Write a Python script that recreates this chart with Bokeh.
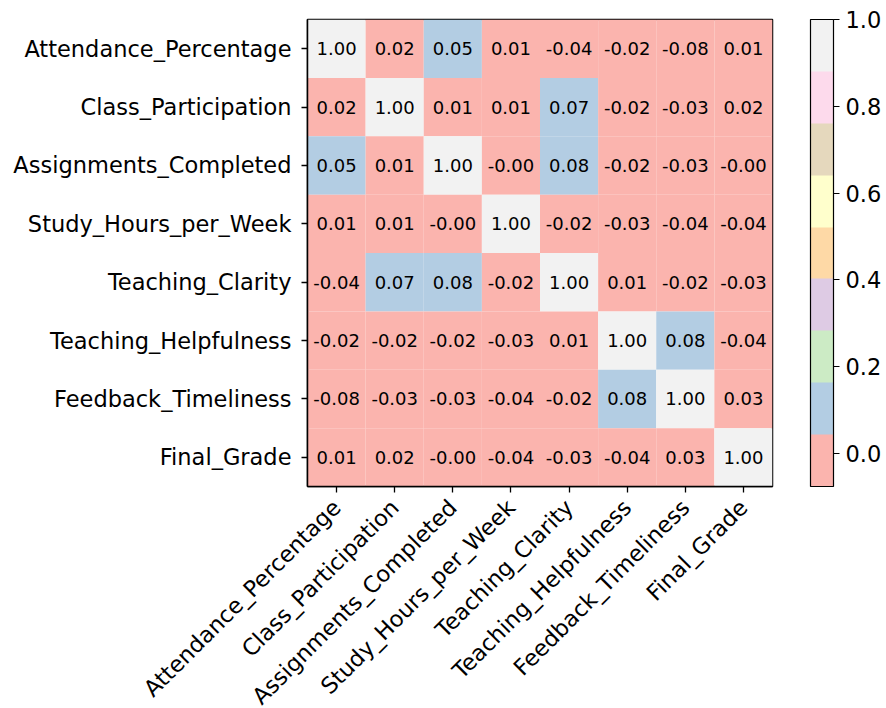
import math
from bokeh.plotting import figure
from bokeh.models import ColumnDataSource, LinearColorMapper, ColorBar, FixedTicker
from bokeh.transform import transform
from bokeh.core.properties import value
from bokeh.embed import file_html
from bokeh.resources import INLINE

labels = ["Attendance_Percentage", "Class_Participation", "Assignments_Completed",
          "Study_Hours_per_Week", "Teaching_Clarity", "Teaching_Helpfulness",
          "Feedback_Timeliness", "Final_Grade"]

row_attendance = [1.00, 0.02, 0.05, 0.01, -0.04, -0.02, -0.076, 0.01]
row_participation = [0.02, 1.00, 0.01, 0.01, 0.07, -0.02, -0.03, 0.02]
row_assignments = [0.05, 0.01, 1.00, -0.002, 0.08, -0.02, -0.03, -0.002]
row_study = [0.01, 0.01, -0.002, 1.00, -0.02, -0.03, -0.04, -0.04]
row_clarity = [-0.04, 0.07, 0.08, -0.02, 1.00, 0.01, -0.02, -0.03]
row_helpfulness = [-0.02, -0.02, -0.02, -0.03, 0.01, 1.00, 0.08, -0.04]
row_feedback = [-0.076, -0.03, -0.03, -0.04, -0.02, 0.08, 1.00, 0.03]
row_final = [0.01, 0.02, -0.002, -0.04, -0.03, -0.04, 0.03, 1.00]

matrix = [row_attendance, row_participation, row_assignments, row_study,
          row_clarity, row_helpfulness, row_feedback, row_final]

palette = ["#fbb4ae", "#b3cde3", "#ccebc5", "#decbe4", "#fed9a6",
           "#ffffcc", "#e5d8bd", "#fddaec", "#f2f2f2"]
cbar_ticks = [0.0, 0.2, 0.4, 0.6, 0.8, 1.0]

xs, ys, vals, txt = [], [], [], []
for i, row in enumerate(matrix):
    for j, v in enumerate(row):
        xs.append(labels[j])
        ys.append(labels[i])
        vals.append(v)
        txt.append("%.2f" % v)

src = ColumnDataSource(dict(x=xs, y=ys, v=vals, t=txt))
vmin = min(vals)
vmax = max(vals)
mapper = LinearColorMapper(palette=palette, low=vmin, high=vmax)

FONT = "DejaVu Sans"

p = figure(frame_width=465, frame_height=467, x_range=labels, y_range=list(reversed(labels)),
           output_backend="svg", toolbar_location=None, tools="",
           min_border_left=307, min_border_top=19, min_border_right=106, min_border_bottom=10)

p.rect(x="x", y="y", width=1, height=1, source=src,
       fill_color=transform("v", mapper), line_color=None)
p.text(x="x", y="y", text="t", source=src, text_align="center", text_baseline="middle",
       text_font=value(FONT), text_font_size="18px", text_color="black")

for ax in (p.xaxis[0], p.yaxis[0]):
    ax.major_label_text_font = FONT
    ax.major_label_text_font_size = "22.5px"
    ax.major_label_text_color = "black"
    ax.axis_line_color = "black"
    ax.axis_line_width = 1.5
    ax.major_tick_line_color = "black"
    ax.major_tick_line_width = 1.3
    ax.major_tick_out = 6
    ax.major_tick_in = 0
    ax.minor_tick_line_color = None

p.yaxis[0].major_label_standoff = 10
p.xaxis[0].major_label_standoff = 11
p.xaxis.major_label_orientation = math.pi / 4
p.grid.grid_line_color = None
p.outline_line_color = "black"
p.outline_line_width = 1.5
p.x_range.range_padding = 0
p.y_range.range_padding = 0

cb = ColorBar(color_mapper=mapper, width=23, padding=0, margin=0,
              ticker=FixedTicker(ticks=cbar_ticks),
              major_label_text_font=FONT, major_label_text_font_size="22.5px",
              major_label_text_color="black",
              major_tick_line_color="black", major_tick_out=6, major_tick_in=0,
              bar_line_color="black", bar_line_width=1.2,
              label_standoff=6, location=(38, 0))
cb.major_label_overrides = {0.0: "0.0", 0.2: "0.2", 0.4: "0.4", 0.6: "0.6", 0.8: "0.8", 1.0: "1.0"}
p.add_layout(cb, "right")

open("out.html", "w").write(file_html(p, INLINE))
